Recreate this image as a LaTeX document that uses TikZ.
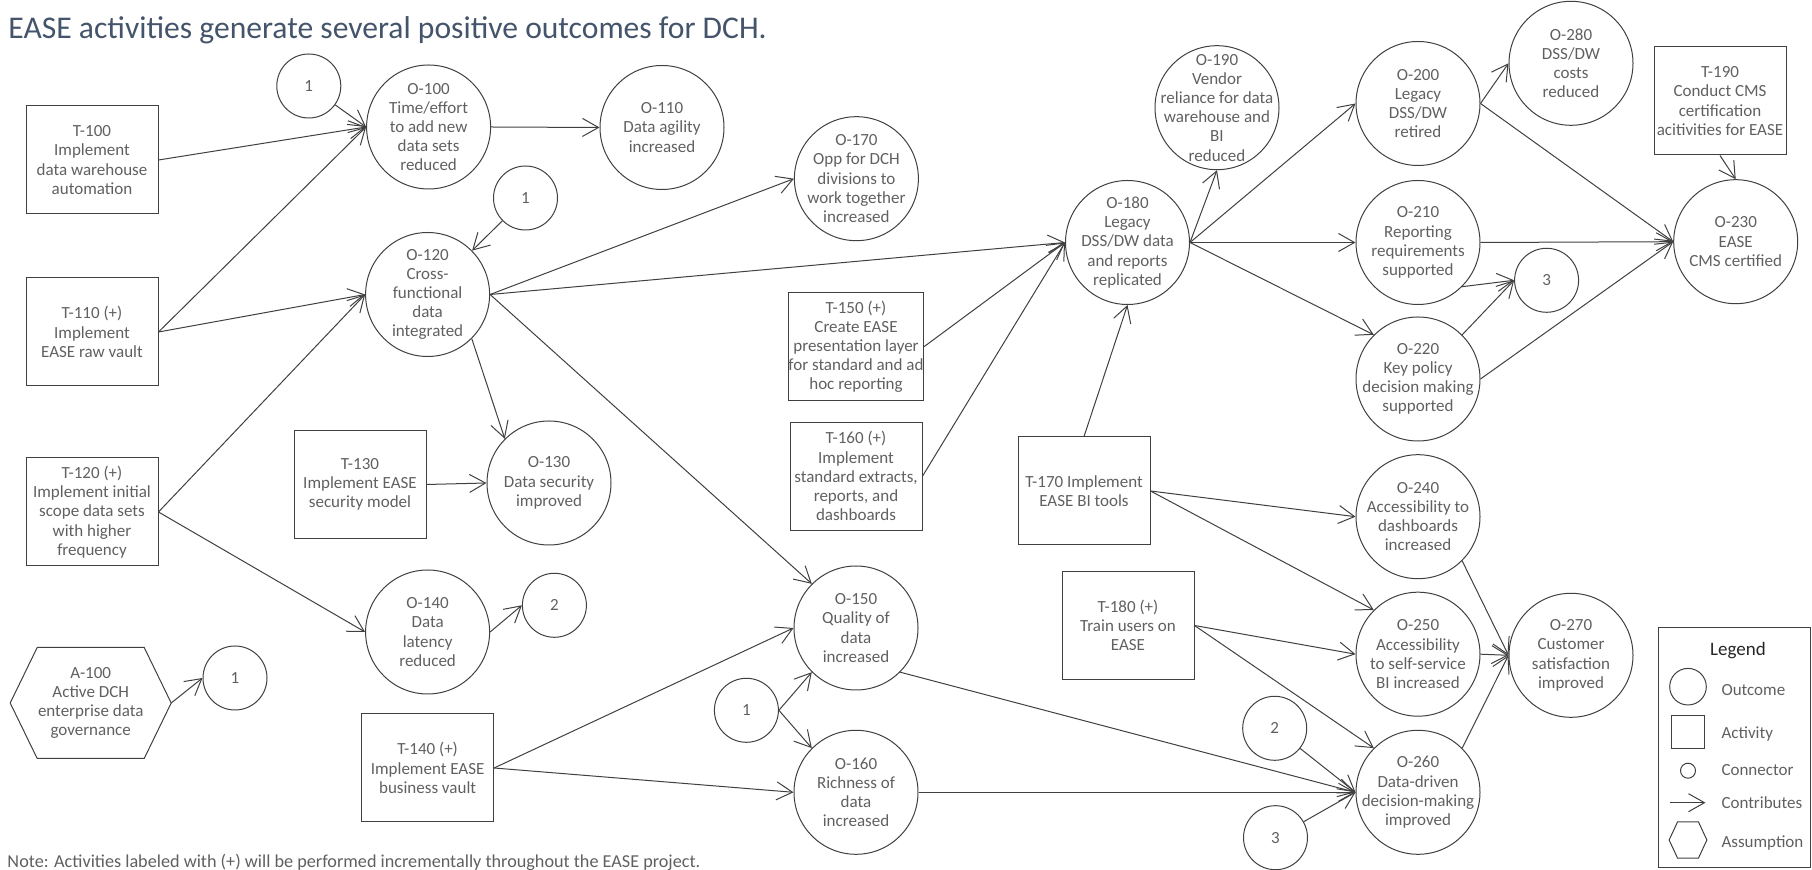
\documentclass[tikz,border=0pt]{standalone}
\usepackage{fontspec}
\setmainfont{Carlito}
\usetikzlibrary{arrows.meta,positioning}
\definecolor{edgec}{RGB}{64,64,64}
\definecolor{textc}{RGB}{96,96,96}
\definecolor{titlec}{RGB}{68,84,106}

\begin{document}
\begin{tikzpicture}[x=0.5pt,y=-0.5pt,font=\fontsize{8.5}{9.6}\selectfont,>={Straight Barb[length=8pt,width=9pt]},line width=0.5pt]
\tikzstyle{oc}=[draw=edgec,circle,minimum size=62pt,inner sep=-10pt,align=center,text=textc]
\tikzstyle{ac}=[draw=edgec,rectangle,minimum width=66pt,minimum height=54pt,inner sep=0pt,align=center,text=textc]
\tikzstyle{cn}=[draw=edgec,circle,minimum size=32pt,inner sep=0pt,text=textc]
\tikzstyle{hx}=[minimum width=80pt,minimum height=55pt,inner sep=0pt,align=center,text=textc]
\tikzstyle{ln}=[->,edgec]
\tikzstyle{lbl}=[anchor=west,inner sep=0pt,text=textc]
\useasboundingbox (0,0) rectangle (1812,870);
\node[anchor=base west,inner sep=0pt,text=titlec,font=\fontsize{15.8}{18}\selectfont] (ttl) at (8,39) {EASE activities generate several positive outcomes for DCH.};
% activities
\node[ac] (t100) at (92,160) {T-100\\Implement\\data warehouse\\automation};
\node[ac] (t110) at (92,332) {T-110 (+)\\Implement\\EASE raw vault};
\node[ac] (t120) at (92,512) {T-120 (+)\\Implement initial\\scope data sets\\with higher\\frequency};
\node[ac] (t130) at (360,484.5) {T-130\\Implement EASE\\security model};
\node[ac] (t140) at (427.6,768) {T-140 (+)\\Implement EASE\\business vault};
\node[ac] (t150) at (856,346.7) {T-150 (+)\\Create EASE\\presentation layer\\for standard and ad\\hoc reporting};
\node[ac] (t160) at (856,476.2) {T-160 (+)\\Implement\\standard extracts,\\reports, and\\dashboards};
\node[ac] (t170) at (1084,491) {T-170 Implement\\EASE BI tools};
\node[ac] (t180) at (1128,625.5) {T-180 (+)\\Train users on\\EASE};
\node[ac] (t190) at (1720,101) {T-190\\Conduct CMS\\certification\\acitivities for EASE};
% outcomes
\node[oc] (o100) at (428.6,127) {O-100\\Time/effort\\to add new\\data sets\\reduced};
\node[oc] (o110) at (662,127.5) {O-110\\Data agility\\increased};
\node[oc] (o120) at (427.6,294.5) {O-120\\Cross-\\functional\\data\\integrated};
\node[oc] (o130) at (549,483) {O-130\\Data security\\improved};
\node[oc] (o140) at (427.6,632) {O-140\\Data\\latency\\reduced};
\node[oc] (o150) at (856,628) {O-150\\Quality of\\data\\increased};
\node[oc] (o160) at (856,792.3) {O-160\\Richness of\\data\\increased};
\node[oc] (o170) at (856.4,178.7) {O-170\\Opp for DCH\\divisions to\\work together\\increased};
\node[oc] (o180) at (1127.5,242.5) {O-180\\Legacy\\DSS/DW data\\and reports\\replicated};
\node[oc] (o190) at (1217,107.7) {O-190\\Vendor\\reliance for data\\warehouse and\\BI\\reduced};
\node[oc] (o200) at (1418,103.5) {O-200\\Legacy\\DSS/DW\\retired};
\node[oc] (o280) at (1571,63.3) {O-280\\DSS/DW\\costs\\reduced};
\node[oc] (o210) at (1418,242.5) {O-210\\Reporting\\requirements\\supported};
\node[oc] (o220) at (1418,379) {O-220\\Key policy\\decision making\\supported};
\node[oc] (o230) at (1735.7,241.7) {O-230\\EASE\\CMS certified};
\node[oc] (o240) at (1418,516.7) {O-240\\Accessibility to\\dashboards\\increased};
\node[oc] (o250) at (1418,654.2) {O-250\\Accessibility\\to self-service\\BI increased};
\node[oc] (o260) at (1418,792.3) {O-260\\Data-driven\\decision-making\\improved};
\node[oc] (o270) at (1571,655.3) {O-270\\Customer\\satisfaction\\improved};
% connectors
\node[cn] (c1a) at (308.8,86) {1};
\node[cn] (c1b) at (525.5,198) {1};
\node[cn] (c1c) at (235,678) {1};
\node[cn] (c2a) at (554.4,605.3) {2};
\node[cn] (c1d) at (746.4,710.3) {1};
\node[cn] (c2b) at (1274.7,728.3) {2};
\node[cn] (c3b) at (1275.5,837.7) {3};
\node[cn] (c3a) at (1546.6,280.3) {3};
% assumption
\node[hx] (a100) at (90.7,703) {A-100\\Active DCH\\enterprise data\\governance};
\draw[edgec] (a100.west) -- ([xshift=13.5pt]a100.north west) -- ([xshift=-13.5pt]a100.north east) -- (a100.east) -- ([xshift=-13.5pt]a100.south east) -- ([xshift=13.5pt]a100.south west) -- cycle;
% contributions
\draw[ln] (c1a)--(o100.west); \draw[ln] (t100.east)--(o100.west); \draw[ln] (t110.east)--(o100.west);
\draw[ln] (t110.east)--(o120.west); \draw[ln] (t120.east)--(o120.west); \draw[ln] (t120.east)--(o140.west);
\draw[ln] (o100.east)--(o110.west); \draw[ln] (c1b)--(o120);
\draw[ln] (o120.east)--(o170.west); \draw[ln] (o120.east)--(o180.west); \draw[ln] (o120.east)--(o150.north west);
\draw[ln] (o120.south east)--(o130.north west); \draw[ln] (t130.east)--(o130.west);
\draw[ln] (o140.east)--(c2a.west); \draw[ln] (a100.east)--(c1c.west);
\draw[ln] (t140.east)--(o150.west); \draw[ln] (t140.east)--(o160.west);
\draw[ln] (c1d.east)--(o150.south west); \draw[ln] (c1d.east)--(o160.north west);
\draw[ln] (o150.south east)--(o260.west); \draw[ln] (o160.east)--(o260.west);
\draw[ln] (t150.east)--(o180.west); \draw[ln] (t160.east)--(o180.west); \draw[ln] (t170.north)--(o180.south);
\draw[ln] (o180.east)--(o190.south); \draw[ln] (o180.east)--(o200.west); \draw[ln] (o180.east)--(o210.west); \draw[ln] (o180.east)--(o220.north west);
\draw[ln] (o200.east)--(o280.west); \draw[ln] (o200.east)--(o230.west); \draw[ln] (o210.east)--(o230.west); \draw[ln] (o220.east)--(o230.west);
\draw[ln] (o210.south east)--(c3a.west); \draw[ln] (o220.north east)--(c3a.west); \draw[ln] (t190.south)--(o230.north);
\draw[ln] (t170.east)--(o240.west); \draw[ln] (t170.east)--(o250.north west); \draw[ln] (t180.east)--(o250.west); \draw[ln] (t180.east)--(o260.north west);
\draw[ln] (c2b)--(o260.west); \draw[ln] (c3b)--(o260.west);
\draw[ln] (o240.south east)--(o270.west); \draw[ln] (o250.east)--(o270.west); \draw[ln] (o260.north east)--(o270.west);
% legend
\node[draw=edgec,minimum width=76pt,minimum height=120pt,inner sep=0pt] (lgd) at (1734,748) {};
\node[inner sep=0pt,text={rgb,255:red,38;green,38;blue,38},font=\fontsize{9.5}{11}\selectfont] (lgdt) at (1738,651) {Legend};
\node[draw=edgec,circle,minimum size=18.3pt,inner sep=0pt] (lgo) at (1688,686.7) {};
\node[draw=edgec,minimum size=16.5pt,inner sep=0pt] (lga) at (1688,732.3) {};
\node[draw=edgec,circle,minimum size=7.5pt,inner sep=0pt] (lgc) at (1688,770.7) {};
\coordinate (lgs) at (1670,802.7); \coordinate (lge) at (1705.5,802.7);
\draw[ln] (lgs)--(lge);
\node[minimum width=18.4pt,minimum height=17.7pt,inner sep=0pt] (lgh) at (1688,840) {};
\draw[edgec] (lgh.west) -- ([xshift=4.25pt]lgh.north west) -- ([xshift=-4.25pt]lgh.north east) -- (lgh.east) -- ([xshift=-4.25pt]lgh.south east) -- ([xshift=4.25pt]lgh.south west) -- cycle;
\node[lbl] (lgot) at (1721,690) {Outcome};
\node[lbl] (lgat) at (1721,734) {Activity};
\node[lbl] (lgct) at (1721,770) {Connector};
\node[lbl] (lgst) at (1721,802.7) {Contributes};
\node[lbl] (lght) at (1721,842.7) {Assumption};
% note
\node[anchor=base west,inner sep=0pt,text=textc,font=\fontsize{9.1}{10}\selectfont] (note) at (7,868) {Note: Activities labeled with (+) will be performed incrementally throughout the EASE project.};
\end{tikzpicture}
\end{document}
